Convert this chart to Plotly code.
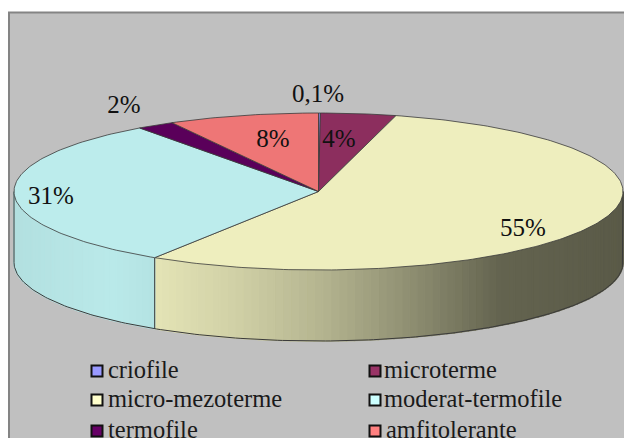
import numpy as np
import plotly.graph_objects as go

# Slices, clockwise from the top of the pie
categories = ['criofile', 'microterme', 'micro-mezoterme', 'moderat-termofile', 'termofile', 'amfitolerante']
values = [0.1, 4, 55, 31, 2, 8]
value_labels = ['0,1%', '4%', '55%', '31%', '2%', '8%']

top_colors = ['#8A8AE6', '#8C2E5E', '#EEEEBE', '#BCECEC', '#5A005A', '#EE7676']
legend_colors = ['#9999FF', '#993366', '#FFFFCC', '#CCFFFF', '#660066', '#FF8080']

# Ellipse of the top face, in pixels of the 624x438 page
cx, cy = 318.5, 191.5
a, b = 304.5, 78.5
depth = 71
edge = '#3a3a3a'

# Lighting of the side wall, by x position
shade_x = [14, 60, 110, 155, 240, 320, 400, 500, 623]
shade_k = [0.95, 0.97, 0.99, 0.96, 0.87, 0.76, 0.62, 0.42, 0.38]

label_x = [318, 339, 523, 51, 124, 273]
label_y = [96, 141, 230, 198, 107, 141]

legend_x = [97, 375, 97, 375, 97, 375]
legend_y = [371, 371, 400, 400, 431, 431]
legend_text_x = [108, 384, 108, 384, 108, 386]


def ell(t, drop=0):
    return cx + a * np.sin(t), cy - b * np.cos(t) + drop


def shaded(color, x):
    k = float(np.interp(x, shade_x, shade_k))
    r, g, bl = [int(color[i:i + 2], 16) for i in (1, 3, 5)]
    return f'rgb({int(r * k)},{int(g * k)},{int(bl * k)})'


fig = go.Figure()

shares = np.array(values) / sum(values)
ends = np.cumsum(shares) * 2 * np.pi
starts = ends - shares * 2 * np.pi

# Side wall in thin bands, only the part that faces the viewer
for start, end, color in zip(starts, ends, top_colors):
    lo, hi = max(start, np.pi / 2), min(end, 3 * np.pi / 2)
    if hi <= lo:
        continue
    steps = np.linspace(lo, hi, max(2, int((hi - lo) / np.radians(1.5)) + 1))
    for t0, t1 in zip(steps[:-1], steps[1:]):
        x0, y0 = ell(t0)
        x1, y1 = ell(t1)
        band = shaded(color, (x0 + x1) / 2)
        fig.add_trace(go.Scatter(x=[x0, x1, x1, x0, x0], y=[y0, y1, y1 + depth, y0 + depth, y0],
                                 mode='lines', fill='toself', fillcolor=band,
                                 line=dict(color=band, width=1.5), hoverinfo='skip'))
    # dark line where two slices meet on the wall
    if lo == start:
        x0, y0 = ell(start)
        fig.add_trace(go.Scatter(x=[x0, x0], y=[y0, y0 + depth], mode='lines',
                                 line=dict(color=edge, width=1), hoverinfo='skip'))

# Outline of the wall
t = np.linspace(np.pi / 2, 3 * np.pi / 2, 200)
xs, ys = ell(t, depth)
xt, yt = ell(np.pi / 2), ell(3 * np.pi / 2)
fig.add_trace(go.Scatter(x=np.r_[xt[0], xs, yt[0]], y=np.r_[xt[1], ys, yt[1]], mode='lines',
                         line=dict(color=edge, width=1), hoverinfo='skip'))

# Top face
for start, end, color, name in zip(starts, ends, top_colors, categories):
    t = np.linspace(start, end, max(2, int((end - start) / np.radians(1)) + 2))
    xs, ys = ell(t)
    fig.add_trace(go.Scatter(x=np.r_[cx, xs, cx], y=np.r_[cy, ys, cy], mode='lines', fill='toself',
                             fillcolor=color, line=dict(color=edge, width=0.8), name=name))

# Value labels
fig.add_trace(go.Scatter(x=label_x, y=label_y, mode='text', text=value_labels, textposition='middle center',
                         textfont=dict(family='Liberation Serif', size=25, color='#111111'), hoverinfo='skip'))

# Legend drawn by hand so that it sits in two columns
fig.add_trace(go.Scatter(x=legend_x, y=legend_y, mode='markers',
                         marker=dict(symbol='square', size=11, color=legend_colors,
                                     line=dict(color='#111111', width=2)), hoverinfo='skip'))
fig.add_trace(go.Scatter(x=legend_text_x, y=[y + 1 for y in legend_y], mode='text', text=categories,
                         textposition='middle right',
                         textfont=dict(family='Liberation Serif', size=24.5, color='#1a1a1a'), hoverinfo='skip'))

fig.update_layout(
    width=624, height=438, margin=dict(l=0, r=0, t=0, b=0),
    paper_bgcolor='white', plot_bgcolor='white', showlegend=False,
    xaxis=dict(range=[0, 624], visible=False, fixedrange=True),
    yaxis=dict(range=[438, 0], visible=False, fixedrange=True),
    shapes=[dict(type='rect', xref='x', yref='y', x0=9, y0=12.5, x1=660, y1=470, layer='below',
                 fillcolor='#C0C0C0', line=dict(color='#848484', width=2))],
)

fig.write_html('out.html', config=dict(displayModeBar=False),
               post_script="document.body.style.margin='0';")
